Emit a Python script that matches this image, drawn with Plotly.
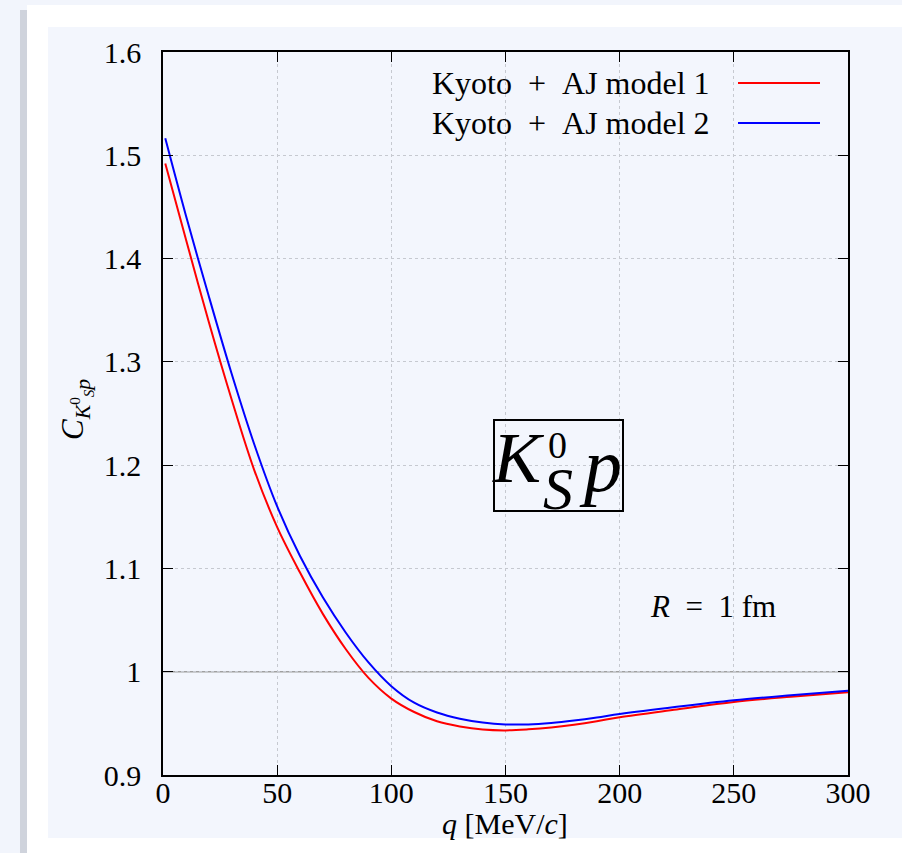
import plotly.graph_objects as go

# ---- data ----
q_model1 = [1, 10, 20, 30, 40, 50, 60, 70, 80, 90, 100, 110, 120, 130, 140, 150, 160, 170, 180, 190,
            200, 225, 250, 275, 300]
c_model1 = [1.492, 1.419, 1.339, 1.264, 1.195, 1.140, 1.096, 1.056, 1.022, 0.994, 0.974, 0.961, 0.952,
            0.947, 0.944, 0.9432, 0.9442, 0.946, 0.9487, 0.9521, 0.956, 0.9635, 0.9707, 0.9757, 0.980]

q_model2 = [1, 10, 20, 30, 40, 50, 60, 70, 80, 90, 100, 110, 120, 130, 140, 150, 160, 170, 180, 190,
            200, 225, 250, 275, 300]
c_model2 = [1.5165, 1.442, 1.364, 1.289, 1.220, 1.160, 1.112, 1.072, 1.038, 1.009, 0.986, 0.970, 0.9605,
            0.9545, 0.9508, 0.9490, 0.9490, 0.9504, 0.9527, 0.9556, 0.959, 0.966, 0.9723, 0.9772, 0.9816]

series_names = ["Kyoto\u00a0\u00a0+\u00a0\u00a0AJ model 1", "Kyoto\u00a0\u00a0+\u00a0\u00a0AJ model 2"]
series_colors = ["#ff0000", "#0000ff"]

x_ticks = [0, 50, 100, 150, 200, 250, 300]
y_ticks = [0.9, 1.0, 1.1, 1.2, 1.3, 1.4, 1.5, 1.6]
y_tick_text = ["0.9", "1", "1.1", "1.2", "1.3", "1.4", "1.5", "1.6"]

# ---- layout geometry (pixels) ----
W, H = 902, 853
L, R, T, B = 163, 848, 52, 775
FONT = "Liberation Serif"


def px(x):
    return (x - L) / (R - L)


def py(y):
    return (B - y) / (B - T)


fig = go.Figure()
for qs, cs, name, col in zip([q_model1, q_model2], [c_model1, c_model2], series_names, series_colors):
    fig.add_trace(go.Scatter(x=qs, y=cs, mode="lines", name=name,
                             line=dict(color=col, width=2, shape="spline", smoothing=1.0),
                             showlegend=False, hoverinfo="skip"))

shapes = []
# page decorations
shapes.append(dict(type="rect", xref="paper", yref="paper", x0=px(20), x1=px(27), y0=py(10), y1=py(853),
                   fillcolor="#cfd3dc", line=dict(width=0), layer="below"))
shapes.append(dict(type="rect", xref="paper", yref="paper", x0=px(27), x1=px(902), y0=py(5), y1=py(853),
                   fillcolor="#ffffff", line=dict(width=0), layer="below"))
shapes.append(dict(type="rect", xref="paper", yref="paper", x0=px(48), x1=px(902), y0=py(27), y1=py(838),
                   fillcolor="#f3f6fd", line=dict(width=0), layer="below"))
# reference line at C = 1
shapes.append(dict(type="line", xref="x", yref="y", x0=0, x1=300, y0=1, y1=1,
                   line=dict(color="#a0a0a0", width=1.5), layer="below"))
# box around K_S^0 p label
shapes.append(dict(type="rect", xref="paper", yref="paper", x0=px(494), x1=px(623), y0=py(511), y1=py(420),
                   line=dict(color="#000000", width=2), fillcolor="rgba(0,0,0,0)"))
# legend keys
for i, col in enumerate(series_colors):
    yk = 83 + 40 * i
    shapes.append(dict(type="line", xref="paper", yref="paper", x0=px(738), x1=px(820), y0=py(yk), y1=py(yk),
                       line=dict(color=col, width=2)))

ann = []
for i, name in enumerate(series_names):
    ann.append(dict(xref="paper", yref="paper", x=px(712), y=py(83 + 40 * i), xanchor="right", yanchor="middle",
                    text=name, showarrow=False, font=dict(family=FONT, size=32, color="#000")))
ann.append(dict(xref="paper", yref="paper", x=px(713), y=py(606), xanchor="center", yanchor="middle",
                text="<i>R</i>\u00a0\u00a0=\u00a0\u00a01 fm", showarrow=False,
                font=dict(family=FONT, size=31, color="#000")))
# K_S^0 p label pieces
ann.append(dict(xref="paper", yref="paper", x=px(518), y=py(458), xanchor="center", yanchor="middle",
                text="<i>K</i>", showarrow=False, font=dict(family=FONT, size=72, color="#000")))
ann.append(dict(xref="paper", yref="paper", x=px(557), y=py(445), xanchor="center", yanchor="middle",
                text="0", showarrow=False, font=dict(family=FONT, size=38, color="#000")))
ann.append(dict(xref="paper", yref="paper", x=px(558), y=py(489), xanchor="center", yanchor="middle",
                text="<i>S</i>", showarrow=False, font=dict(family=FONT, size=60, color="#000")))
ann.append(dict(xref="paper", yref="paper", x=px(600), y=py(465), xanchor="center", yanchor="middle",
                text="<i>p</i>", showarrow=False, font=dict(family=FONT, size=76, color="#000")))
# axis titles
ann.append(dict(xref="paper", yref="paper", x=px(505), y=py(823), xanchor="center", yanchor="middle",
                text="<i>q</i> [MeV/<i>c</i>]", showarrow=False, font=dict(family=FONT, size=30, color="#000")))
ann.append(dict(xref="paper", yref="paper", x=px(76), y=py(410), xanchor="center", yanchor="middle",
                text="<i>C</i><sub><i>K</i><sup>0</sup><sub><i>S</i></sub><i>p</i></sub>", textangle=-90,
                showarrow=False, font=dict(family=FONT, size=31, color="#000")))

axis_common = dict(showline=True, linecolor="#000", linewidth=1.5, mirror="allticks",
                   ticks="inside", ticklen=10, tickwidth=1.2, tickcolor="#000",
                   showgrid=True, gridcolor="#c6c9d0", griddash="dot", gridwidth=1,
                   zeroline=False, tickfont=dict(family=FONT, size=30, color="#000"))

fig.update_layout(
    width=W, height=H,
    margin=dict(l=L, r=W - R, t=T, b=H - B, pad=0),
    paper_bgcolor="#f2f5fc", plot_bgcolor="rgba(0,0,0,0)",
    xaxis=dict(range=[0, 300], tickvals=x_ticks, ticktext=[str(v) for v in x_ticks],
               ticklabelstandoff=-10, **axis_common),
    yaxis=dict(range=[0.9, 1.6], tickvals=y_ticks, ticktext=y_tick_text,
               ticklabelstandoff=14, **axis_common),
    shapes=shapes, annotations=ann, showlegend=False,
)

fig.write_html("out.html")
